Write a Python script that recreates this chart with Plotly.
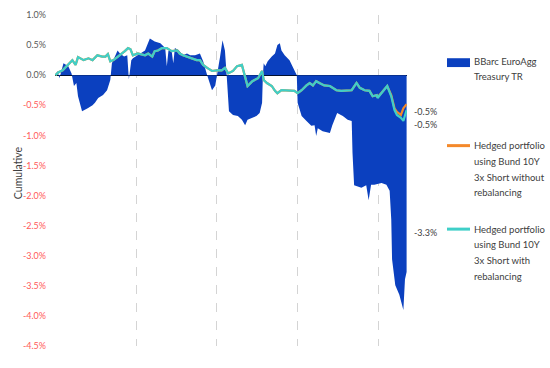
import plotly.graph_objects as go

# ---- data (x in years from start, y in %) ----
bench_x = [0.00, 0.025, 0.05, 0.10, 0.16, 0.20, 0.23, 0.26, 0.28, 0.33, 0.40, 0.46, 0.49, 0.53, 0.59, 0.64,
           0.68, 0.70, 0.77, 0.80, 0.85, 0.89, 0.91, 0.94, 0.96, 1.02, 1.11, 1.17, 1.23, 1.30, 1.36, 1.38,
           1.40, 1.44, 1.46, 1.48, 1.53, 1.58, 1.63, 1.67, 1.73, 1.79, 1.83, 1.88, 1.91, 1.94, 1.98, 2.00,
           2.04, 2.07, 2.10, 2.12, 2.15, 2.20, 2.26, 2.31, 2.35, 2.38, 2.44, 2.49, 2.53, 2.56, 2.57, 2.58,
           2.60, 2.63, 2.68, 2.72, 2.75, 2.78, 2.80, 2.84, 2.90, 2.96, 2.99, 3.00, 3.05, 3.11, 3.17, 3.21,
           3.23, 3.25, 3.31, 3.40, 3.43, 3.49, 3.56, 3.62, 3.67, 3.68, 3.70, 3.79, 3.85, 3.88, 3.91, 3.95,
           4.04, 4.10, 4.14, 4.16, 4.17, 4.21, 4.26, 4.31, 4.33, 4.35]
bench_y = [0.00, 0.07, -0.05, 0.20, 0.15, 0.03, -0.18, -0.13, -0.35, -0.60, -0.55, -0.50, -0.46, -0.38, -0.33, -0.25,
           -0.08, 0.20, 0.41, 0.36, 0.31, 0.33, -0.07, 0.25, 0.28, 0.33, 0.41, 0.61, 0.56, 0.53, 0.45, 0.15,
           0.40, 0.40, 0.20, 0.45, 0.41, 0.33, 0.36, 0.33, 0.33, 0.36, 0.23, 0.00, -0.13, -0.25, -0.17, -0.02,
           0.31, 0.58, 0.41, 0.03, -0.60, -0.66, -0.68, -0.74, -0.83, -0.74, -0.71, -0.68, -0.63, -0.46, 0.00, 0.20,
           0.15, 0.23, 0.31, 0.36, 0.50, 0.53, 0.41, 0.33, 0.25, 0.08, 0.00, -0.46, -0.68, -0.76, -0.84, -0.83,
           -1.01, -0.88, -0.93, -0.96, -0.83, -0.63, -0.68, -0.74, -0.76, -1.29, -1.83, -1.87, -1.83, -2.08, -1.82, -1.82,
           -1.79, -1.82, -1.92, -2.40, -3.06, -3.49, -3.65, -3.90, -3.39, -3.27]

hedge_x = [0.00, 0.04, 0.09, 0.12, 0.16, 0.21, 0.25, 0.28, 0.35, 0.41, 0.46, 0.52, 0.58, 0.62, 0.65, 0.68,
           0.72, 0.78, 0.86, 0.90, 0.93, 0.96, 1.02, 1.11, 1.15, 1.20, 1.23, 1.27, 1.32, 1.38, 1.44, 1.51,
           1.54, 1.58, 1.63, 1.69, 1.75, 1.79, 1.83, 1.88, 1.94, 2.00, 2.06, 2.10, 2.14, 2.20, 2.25, 2.31,
           2.38, 2.44, 2.51, 2.56, 2.58, 2.62, 2.68, 2.72, 2.75, 2.80, 2.86, 2.93, 2.96, 3.00, 3.05, 3.11,
           3.15, 3.19, 3.23, 3.27, 3.33, 3.40, 3.48, 3.54, 3.60, 3.67, 3.73, 3.77, 3.83, 3.89, 3.93, 3.98,
           3.99, 4.04, 4.11, 4.16, 4.20, 4.23, 4.28, 4.31, 4.35]
hedge_reb_y = [0.00, 0.05, 0.08, 0.12, 0.17, 0.25, 0.17, 0.30, 0.25, 0.28, 0.25, 0.33, 0.31, 0.31, 0.35, 0.23,
               0.25, 0.31, 0.40, 0.45, 0.43, 0.33, 0.36, 0.33, 0.36, 0.31, 0.40, 0.41, 0.45, 0.45, 0.40, 0.41,
               0.36, 0.33, 0.31, 0.28, 0.25, 0.25, 0.17, 0.12, 0.07, 0.08, 0.08, 0.12, 0.03, 0.07, 0.15, 0.17,
               -0.18, -0.10, -0.05, 0.07, -0.08, -0.13, -0.18, -0.26, -0.30, -0.25, -0.25, -0.26, -0.26, -0.30, -0.25, -0.17,
               -0.13, -0.17, -0.10, -0.13, -0.17, -0.18, -0.25, -0.26, -0.26, -0.25, -0.13, -0.21, -0.25, -0.26, -0.35, -0.33,
               -0.38, -0.30, -0.18, -0.35, -0.58, -0.66, -0.71, -0.76, -0.58]
hedge_norebal_y = [0.00, 0.05, 0.08, 0.12, 0.17, 0.25, 0.17, 0.30, 0.25, 0.28, 0.25, 0.33, 0.31, 0.31, 0.35, 0.23,
                   0.25, 0.31, 0.40, 0.45, 0.43, 0.33, 0.36, 0.33, 0.36, 0.31, 0.40, 0.41, 0.45, 0.45, 0.40, 0.41,
                   0.36, 0.33, 0.31, 0.28, 0.25, 0.25, 0.17, 0.12, 0.07, 0.08, 0.08, 0.12, 0.03, 0.07, 0.15, 0.17,
                   -0.18, -0.10, -0.05, 0.07, -0.08, -0.13, -0.18, -0.26, -0.30, -0.25, -0.25, -0.26, -0.26, -0.30, -0.25, -0.17,
                   -0.13, -0.17, -0.10, -0.13, -0.17, -0.18, -0.25, -0.26, -0.26, -0.25, -0.13, -0.21, -0.25, -0.26, -0.35, -0.33,
                   -0.37, -0.29, -0.18, -0.33, -0.55, -0.61, -0.66, -0.55, -0.48]

series_names = ["BBarc EuroAgg Treasury TR",
                "Hedged portfolio using Bund 10Y 3x Short without rebalancing",
                "Hedged portfolio using Bund 10Y 3x Short with rebalancing"]
legend_lines = [["BBarc EuroAgg", "Treasury TR"],
                ["Hedged portfolio", "using Bund 10Y", "3x Short without", "rebalancing"],
                ["Hedged portfolio", "using Bund 10Y", "3x Short with", "rebalancing"]]
end_labels = ["-0.5%", "-0.5%", "-3.3%"]

y_tickvals = [1.0, 0.5, 0.0, -0.5, -1.0, -1.5, -2.0, -2.5, -3.0, -3.5, -4.0, -4.5]
x_gridvals = [0, 1, 2, 3, 4]

BLUE = "#0b40bf"
ORANGE = "#f4892a"
TEAL = "#3fcfc8"
FONT = "Lato, Roboto, sans-serif"

fig = go.Figure()
fig.add_trace(go.Scatter(x=bench_x, y=bench_y, name=series_names[0], mode="lines",
                         line=dict(width=0, color=BLUE), fill="tozeroy", fillcolor=BLUE))
fig.add_trace(go.Scatter(x=hedge_x, y=hedge_norebal_y, name=series_names[1], mode="lines",
                         line=dict(width=2.2, color=ORANGE)))
fig.add_trace(go.Scatter(x=hedge_x, y=hedge_reb_y, name=series_names[2], mode="lines",
                         line=dict(width=2.2, color=TEAL)))

ticktext = []
for v in y_tickvals:
    lab = f"{v:.1f}%"
    if v < 0:
        ticktext.append(f'<span style="color:#ff5a5a">{lab}</span>')
    else:
        ticktext.append(lab)

L, R, T, B = 55, 143, 9, 22
W, H = 550, 368
pw, ph = W - L - R, H - T - B

def px_x(px):
    return (px - L) / pw

def px_y(py):
    return (H - B - py) / ph

annotations = []
# y-axis title
annotations.append(dict(text="Cumulative", x=px_x(10), y=px_y(170), xref="paper", yref="paper",
                        textangle=-90, showarrow=False, font=dict(size=10.5, color="#404040", family=FONT)))
# end labels
for lab, py in zip(end_labels, [100, 113, 238]):
    annotations.append(dict(text=lab, x=px_x(412), y=px_y(py), xref="paper", yref="paper",
                            xanchor="left", showarrow=False, font=dict(size=9, color="#404040", family=FONT)))
# manual legend
legend_top = [56, 142, 227]
shapes = []
for i, lines in enumerate(legend_lines):
    for j, t in enumerate(lines):
        annotations.append(dict(text=t, x=px_x(472), y=px_y(legend_top[i] + 16 * j), xref="paper", yref="paper",
                                xanchor="left", yanchor="middle", showarrow=False,
                                font=dict(size=9.5, color="#404040", family=FONT)))
shapes.append(dict(type="rect", xref="paper", yref="paper", x0=px_x(447), x1=px_x(470),
                   y0=px_y(62), y1=px_y(53), fillcolor=BLUE, line=dict(width=0)))
shapes.append(dict(type="line", xref="paper", yref="paper", x0=px_x(447), x1=px_x(470),
                   y0=px_y(142), y1=px_y(142), line=dict(color=ORANGE, width=3)))
shapes.append(dict(type="line", xref="paper", yref="paper", x0=px_x(447), x1=px_x(470),
                   y0=px_y(227), y1=px_y(227), line=dict(color=TEAL, width=3)))

fig.update_layout(
    width=W, height=H,
    margin=dict(l=L, r=R, t=T, b=B, pad=0),
    paper_bgcolor="white", plot_bgcolor="white",
    showlegend=False,
    font=dict(family=FONT, size=9, color="#595959"),
    annotations=annotations, shapes=shapes,
    xaxis=dict(range=[-0.005, 4.355], tickmode="array", tickvals=x_gridvals, showticklabels=False,
               showgrid=True, gridcolor="#d4d4d4", griddash="dash", gridwidth=1,
               zeroline=False, showline=False, ticks=""),
    yaxis=dict(range=[-4.5, 1.0], tickmode="array", tickvals=y_tickvals, ticktext=ticktext,
               showgrid=False, zeroline=True, zerolinecolor="#000000", zerolinewidth=1,
               showline=False, ticks="", ticklabelstandoff=8,
               tickfont=dict(size=9, color="#595959", family=FONT)),
)

fig.write_html("out.html", config={"displayModeBar": False},
               post_script="document.body.style.margin='0';document.body.style.padding='0';")
